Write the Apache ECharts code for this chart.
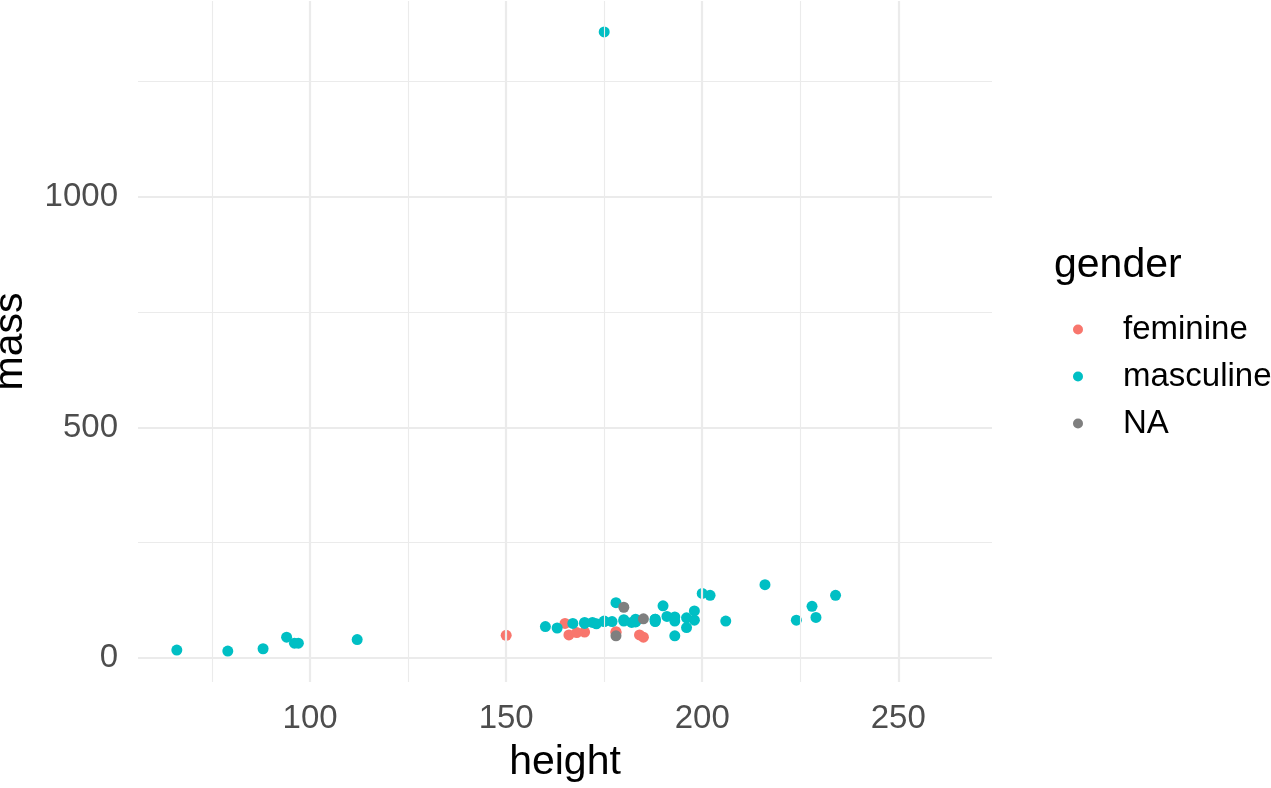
<!DOCTYPE html>
<html>
<head>
<meta charset="utf-8">
<script src="https://cdn.jsdelivr.net/npm/echarts@6/dist/echarts.min.js"></script>
<style>
html,body{margin:0;padding:0;background:#fff;}
#chart{width:1271px;height:788px;}
</style>
</head>
<body>
<div id="chart"></div>
<script>
// Data (starwars: height vs mass, by gender)
const femHeight = [150, 165, 185, 178, 184, 170, 166, 168, 178];
const femMass   = [49, 75, 45, 55, 50, 56.2, 50, 55, 57];

const mascHeight = [172, 167, 96, 202, 178, 97, 183, 182, 188, 228, 180, 173, 175, 170, 66, 170, 183, 200, 190, 177, 175, 180, 88, 160, 193, 191, 196, 224, 112, 175, 79, 94, 163, 188, 198, 196, 188, 183, 193, 183, 198, 229, 193, 216, 234, 188, 206];
const mascMass   = [77, 75, 32, 136, 120, 32, 84, 77, 84, 112, 80, 74, 1358, 77, 17, 75, 78.2, 140, 113, 79, 79, 83, 20, 68, 89, 90, 66, 82, 40, 80, 15, 45, 65, 84, 82, 87, 80, 80, 80, 79, 102, 88, 48, 159, 136, 79, 80];

const naHeight = [180, 185, 178];
const naMass   = [110, 85, 48];

const genderLevels = ['feminine', 'masculine', 'NA'];
const genderColors = ['#F8766D', '#00BFC4', '#7F7F7F'];

const xTicks = [100, 150, 200, 250];
const xMinor = [75, 125, 175, 225, 275];
const yTicks = [0, 500, 1000];
const yMinor = [250, 750, 1250];

const xMin = 56.1, xMax = 273.9;
const yMin = -52.15, yMax = 1425.15;

function pairs(xs, ys) { return xs.map((x, i) => [x, ys[i]]); }

const FONT = '"Liberation Sans", Arial, sans-serif';
const grid = '#EBEBEB';

const gridLines = [];
xTicks.forEach(v => gridLines.push({xAxis: v, lineStyle: {width: 2.2, color: grid, type: 'solid'}}));
xMinor.forEach(v => gridLines.push({xAxis: v, lineStyle: {width: 1.1, color: grid, type: 'solid'}}));
yTicks.forEach(v => gridLines.push({yAxis: v, lineStyle: {width: 2.2, color: grid, type: 'solid'}}));
yMinor.forEach(v => gridLines.push({yAxis: v, lineStyle: {width: 1.1, color: grid, type: 'solid'}}));

const chart = echarts.init(document.getElementById('chart'), null, {renderer: 'canvas'});
chart.setOption({
  animation: false,
  backgroundColor: '#fff',
  textStyle: {fontFamily: FONT},
  title: {
    text: 'gender', left: 1049, top: 240,
    textStyle: {fontFamily: FONT, fontSize: 41, fontWeight: 'normal', color: '#000'}
  },
  legend: {
    data: genderLevels,
    orient: 'vertical',
    left: 1073, top: 306,
    padding: 0,
    icon: 'circle',
    itemWidth: 10, itemHeight: 10,
    itemGap: 0,
    textStyle: {fontFamily: FONT, fontSize: 33, color: '#000', lineHeight: 47, padding: [0, 0, 0, 35]}
  },
  grid: {left: 138, top: 1, width: 854, height: 681, containLabel: false, outerBoundsMode: 'none'},
  xAxis: {
    type: 'value', min: xMin, max: xMax,
    name: 'height', nameLocation: 'middle', nameGap: 60,
    nameTextStyle: {fontFamily: FONT, fontSize: 41, color: '#000'},
    axisLine: {show: false}, axisTick: {show: false}, splitLine: {show: false},
    axisLabel: {customValues: xTicks, fontFamily: FONT, fontSize: 33, color: '#4D4D4D', margin: 20,
      formatter: v => String(v)}
  },
  yAxis: {
    type: 'value', min: yMin, max: yMax,
    name: 'mass', nameLocation: 'middle', nameGap: 107, nameRotate: 90,
    nameTextStyle: {fontFamily: FONT, fontSize: 41, color: '#000'},
    axisLine: {show: false}, axisTick: {show: false}, splitLine: {show: false},
    axisLabel: {customValues: yTicks, fontFamily: FONT, fontSize: 33, color: '#4D4D4D', margin: 20,
      formatter: v => String(v)}
  },
  series: [
    {
      name: '_grid', type: 'scatter', data: [], silent: true, z: 0,
      markLine: {silent: true, symbol: 'none', label: {show: false}, animation: false, data: gridLines}
    },
    {name: 'feminine', type: 'scatter', symbolSize: 11, itemStyle: {color: genderColors[0], opacity: 1}, data: pairs(femHeight, femMass), z: 2},
    {name: 'masculine', type: 'scatter', symbolSize: 11, itemStyle: {color: genderColors[1], opacity: 1}, data: pairs(mascHeight, mascMass), z: 2},
    {name: 'NA', type: 'scatter', symbolSize: 11, itemStyle: {color: genderColors[2], opacity: 1}, data: pairs(naHeight, naMass), z: 2}
  ]
});
</script>
</body>
</html>
